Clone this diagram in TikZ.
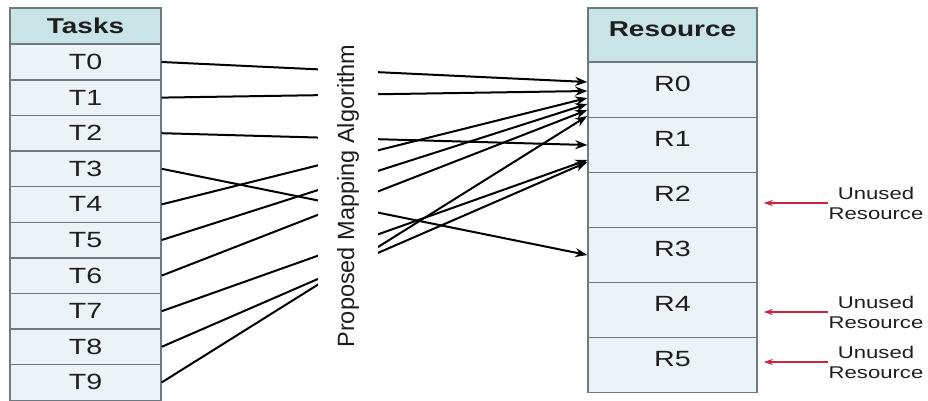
\documentclass[tikz,border=0pt]{standalone}
\usepackage{fontspec}
\setmainfont[FakeStretch=1.3]{Liberation Sans}
\newfontfamily\algfont{Liberation Sans}
\usetikzlibrary{arrows.meta,positioning}
\definecolor{headfill}{RGB}{200,228,231}
\definecolor{cellfill}{RGB}{236,243,247}
\definecolor{gridline}{RGB}{110,122,128}
\definecolor{unusedred}{RGB}{205,35,60}
\definecolor{txt}{RGB}{30,30,30}

\begin{document}
\begin{tikzpicture}[x=1pt,y=-1pt,
  cell/.style={draw=gridline,line width=1.4pt,fill=cellfill,text=txt,inner sep=0pt},
  task/.style={cell,minimum width=151pt,minimum height=35.6pt,font=\fontsize{22}{24}\selectfont},
  res/.style={cell,minimum width=169pt,minimum height=55pt,text height=16pt,text depth=14pt,font=\fontsize{22}{24}\selectfont},
  head/.style={fill=headfill,font=\fontsize{21.5}{24}\selectfont\bfseries},
  map/.style={-{Stealth[length=12pt,width=9pt]},line width=2pt},
  unused/.style={-{Stealth[length=9pt,width=6pt]},line width=1.6pt,draw=unusedred,shorten >=6pt},
  note/.style={font=\fontsize{17}{20}\selectfont,text=txt,align=center,inner sep=1pt}]
   \useasboundingbox (0,0) rectangle (928,400);
   % tasks
   \node[task,head,minimum height=36pt] (tasks) at (85.5,26) {Tasks};
   \foreach \i in {0,...,9}
     \node[task] (t\i) at (85.5,{62+35.6*\i}) {T\i};
   % resources
   \node[res,head,minimum height=54pt] (resource) at (672.5,35) {Resource};
   \foreach \i in {0,...,5}
     \node[res] (r\i) at (672.5,{90+55*\i}) {R\i};
   % mapping
   \draw[map] (t0.east) -- ([yshift=8pt]r0.west);
   \draw[map] (t1.east) -- ([yshift=-1pt]r0.west);
   \draw[map] (t2.east) -- (r1.west);
   \draw[map] (t3.east) -- (r3.west);
   \draw[map] (t4.east) -- ([yshift=-8pt]r0.west);
   \draw[map] (t5.east) -- ([yshift=-14pt]r0.west);
   \draw[map] (t6.east) -- ([yshift=-20pt]r0.west);
   \draw[map] (t7.east) -- ([yshift=-15pt]r1.west);
   \draw[map] (t8.east) -- ([yshift=-17pt]r1.west);
   \draw[map] (t9.east) -- ([yshift=-26pt]r0.west);
   \node[fill=white,rotate=90,minimum height=60pt,inner sep=2pt,text=txt,
         font=\algfont\fontsize{23.5}{26}\selectfont] (alg) at (348,196) {Proposed Mapping Algorithm};
   % unused resources
   \node[note] (u2) at (876,203) {Unused\\Resource};
   \node[note] (u4) at (876,312) {Unused\\Resource};
   \node[note] (u5) at (876,362) {Unused\\Resource};
   \draw[unused] (u2.west) -- (u2.west -| r2.east);
   \draw[unused] (u4.west) -- (u4.west -| r4.east);
   \draw[unused] (u5.west) -- (u5.west -| r5.east);
\end{tikzpicture}
\end{document}
